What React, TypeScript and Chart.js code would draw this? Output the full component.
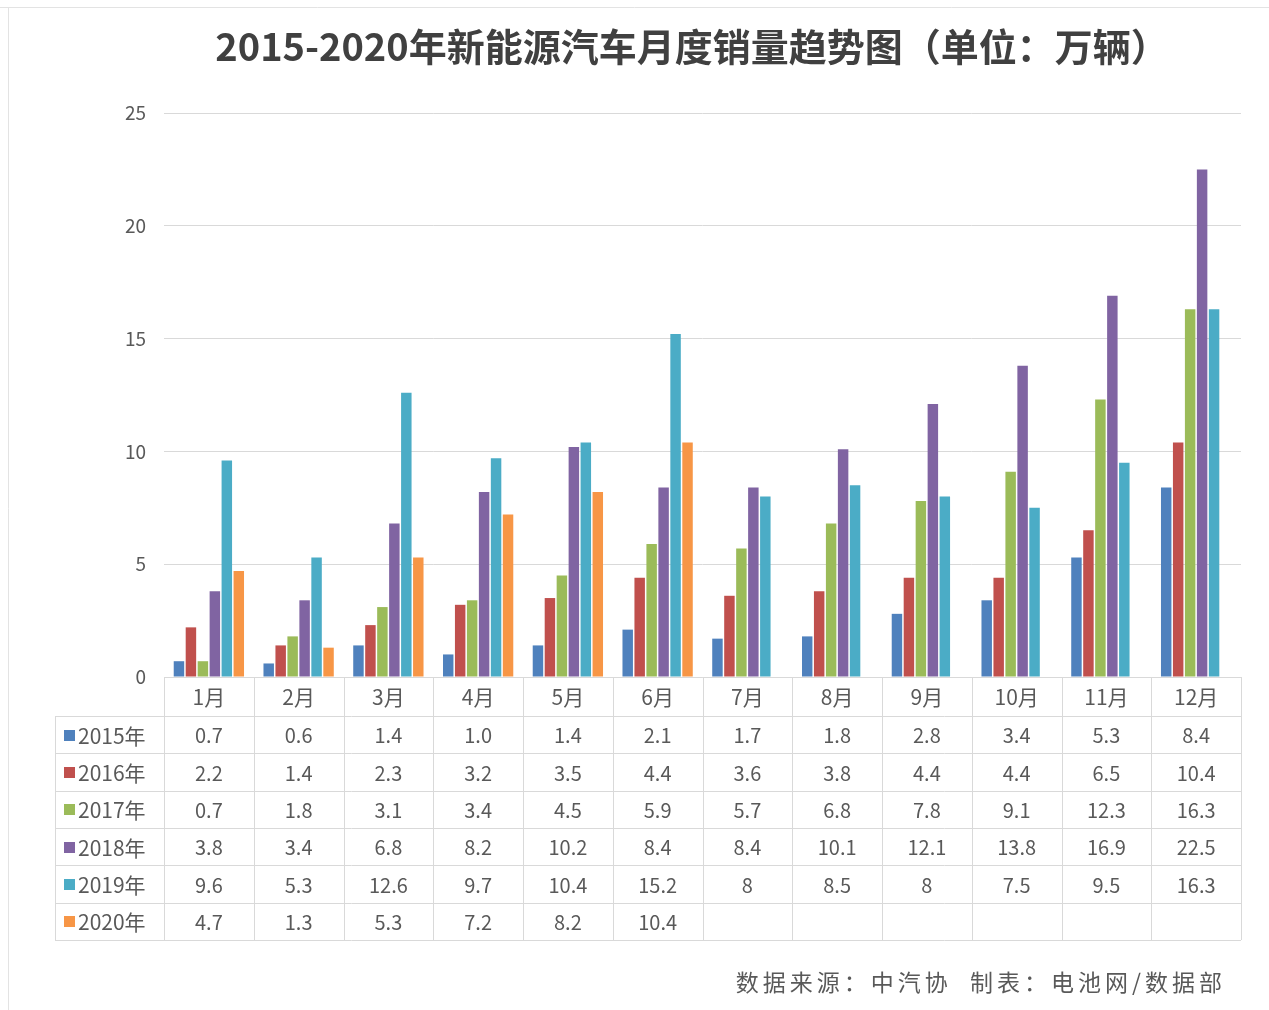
import React, { useEffect, useRef } from "react";
import { Chart, registerables } from "chart.js";

Chart.register(...registerables);

const titleText = "2015-2020年新能源汽车月度销量趋势图（单位：万辆）";
const footnoteText = "数据来源：中汽协  制表：电池网/数据部";

const categories = ["1月", "2月", "3月", "4月", "5月", "6月", "7月", "8月", "9月", "10月", "11月", "12月"];

const seriesNames = ["2015年", "2016年", "2017年", "2018年", "2019年", "2020年"];

const sales2015 = [0.7, 0.6, 1.4, 1.0, 1.4, 2.1, 1.7, 1.8, 2.8, 3.4, 5.3, 8.4];
const sales2016 = [2.2, 1.4, 2.3, 3.2, 3.5, 4.4, 3.6, 3.8, 4.4, 4.4, 6.5, 10.4];
const sales2017 = [0.7, 1.8, 3.1, 3.4, 4.5, 5.9, 5.7, 6.8, 7.8, 9.1, 12.3, 16.3];
const sales2018 = [3.8, 3.4, 6.8, 8.2, 10.2, 8.4, 8.4, 10.1, 12.1, 13.8, 16.9, 22.5];
const sales2019 = [9.6, 5.3, 12.6, 9.7, 10.4, 15.2, 8, 8.5, 8, 7.5, 9.5, 16.3];
const sales2020 = [4.7, 1.3, 5.3, 7.2, 8.2, 10.4, null, null, null, null, null, null];

// decimals shown in the data table per series (null = as is)
const tableDecimals = [1, 1, 1, 1, null, 1];

const seriesColors = ["#4F81BD", "#C0504D", "#9BBB59", "#8064A2", "#4BACC6", "#F79646"];

const yTicks = [0, 5, 10, 15, 20, 25];

const FONT = '"Noto Sans CJK SC", "Noto Sans", sans-serif';
const TEXT = "#595959";
const LINE = "#d9d9d9";

const allSeries = [sales2015, sales2016, sales2017, sales2018, sales2019, sales2020];

const extrasPlugin = {
  id: "extras",
  afterDraw(chart: any) {
    const ctx = chart.ctx as CanvasRenderingContext2D;
    const area = chart.chartArea;
    const n = categories.length;
    const colW = (area.right - area.left) / n;
    const tableLeft = 55;
    const headerTop = area.bottom;
    const headerBottom = 716;
    const tableBottom = 940;
    const rowH = (tableBottom - headerBottom) / allSeries.length;

    ctx.save();
    // frame
    ctx.strokeStyle = "#e3e3e3";
    ctx.lineWidth = 1;
    ctx.beginPath();
    ctx.moveTo(0, 7.5);
    ctx.lineTo(chart.width, 7.5);
    ctx.moveTo(8.5, 7);
    ctx.lineTo(8.5, chart.height);
    ctx.stroke();

    // title
    ctx.fillStyle = "#404040";
    ctx.font = "bold 38px " + FONT;
    ctx.textAlign = "center";
    ctx.textBaseline = "middle";
    ctx.fillText(titleText, 692, 47);

    // table grid
    ctx.strokeStyle = LINE;
    ctx.lineWidth = 1;
    ctx.beginPath();
    ctx.moveTo(area.left, Math.round(headerTop) + 0.5);
    ctx.lineTo(area.right, Math.round(headerTop) + 0.5);
    for (let r = 0; r <= allSeries.length; r++) {
      const y = Math.round(headerBottom + r * rowH) + 0.5;
      ctx.moveTo(tableLeft, y);
      ctx.lineTo(area.right, y);
    }
    for (let c = 0; c <= n; c++) {
      const x = Math.round(area.left + c * colW) + 0.5;
      ctx.moveTo(x, headerTop);
      ctx.lineTo(x, tableBottom);
    }
    ctx.moveTo(tableLeft + 0.5, headerBottom);
    ctx.lineTo(tableLeft + 0.5, tableBottom);
    ctx.stroke();

    // header labels
    ctx.fillStyle = TEXT;
    ctx.font = "21px " + FONT;
    ctx.textAlign = "center";
    ctx.textBaseline = "middle";
    categories.forEach((c, i) => {
      ctx.fillText(c, area.left + (i + 0.5) * colW, (headerTop + headerBottom) / 2 + 1);
    });

    // rows
    allSeries.forEach((vals, r) => {
      const yc = headerBottom + (r + 0.5) * rowH + 1;
      ctx.fillStyle = seriesColors[r];
      ctx.fillRect(64, Math.round(yc - 6), 11, 11);
      ctx.fillStyle = TEXT;
      ctx.textAlign = "left";
      ctx.font = "21px " + FONT;
      ctx.fillText(seriesNames[r], 78, yc);
      ctx.textAlign = "center";
      ctx.font = "20px " + FONT;
      vals.forEach((v, i) => {
        if (v === null || v === undefined) return;
        const d = tableDecimals[r];
        const s = d === null ? String(v) : v.toFixed(d);
        ctx.fillText(s, area.left + (i + 0.5) * colW, yc);
      });
    });

    // footnote
    ctx.fillStyle = TEXT;
    ctx.font = "23px " + FONT;
    ctx.textAlign = "right";
    ctx.textBaseline = "middle";
    (ctx as any).letterSpacing = "4px";
    ctx.fillText(footnoteText, 1226, 982);
    (ctx as any).letterSpacing = "0px";
    ctx.restore();
  },
};

export default function App() {
  const ref = useRef<HTMLCanvasElement | null>(null);

  useEffect(() => {
    if (!ref.current) return;
    const chart = new Chart(ref.current, {
      type: "bar",
      data: {
        labels: categories,
        datasets: allSeries.map((vals, i) => ({
          label: seriesNames[i],
          data: vals,
          backgroundColor: seriesColors[i],
          borderWidth: 0,
          categoryPercentage: 0.8,
          barPercentage: 0.875,
        })),
      },
      options: {
        responsive: false,
        animation: false,
        devicePixelRatio: 1,
        layout: { padding: { top: 113, bottom: 333, right: 28, left: 0 } },
        plugins: {
          legend: { display: false },
          title: { display: false },
          tooltip: { enabled: false },
        },
        scales: {
          x: { display: false },
          y: {
            min: 0,
            max: 25,
            afterFit: (scale: any) => {
              scale.width = 164;
            },
            afterBuildTicks: (scale: any) => {
              scale.ticks = yTicks.map((v) => ({ value: v }));
            },
            ticks: {
              color: TEXT,
              padding: 18,
              font: { family: FONT, size: 19 },
            },
            grid: { color: LINE, drawTicks: false, lineWidth: 1 },
            border: { display: false },
          },
        },
      },
      plugins: [extrasPlugin],
    });
    return () => chart.destroy();
  }, []);

  return (
    <div style={{ position: "absolute", left: 0, top: 0, width: 1269, height: 1010, background: "#fff" }}>
      <canvas ref={ref} width={1269} height={1010} style={{ display: "block" }} />
    </div>
  );
}
